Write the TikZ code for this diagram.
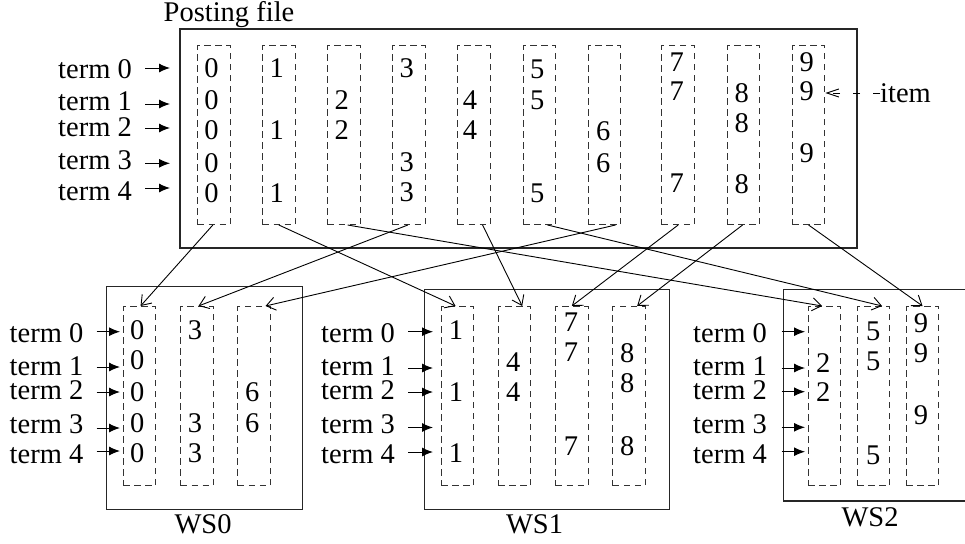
\documentclass[tikz,border=0pt]{standalone}
\usepackage{fontspec}
\setmainfont{Liberation Serif}
\usetikzlibrary{arrows.meta}
\begin{document}
\begin{tikzpicture}[x=1pt,y=-1pt,
  txt/.style={font=\fontsize{28.5}{30}\selectfont, inner sep=0pt},
  colbox/.style={draw=black!80, line width=1pt, dash pattern=on 6.5pt off 4.5pt,
    minimum width=32.7pt, minimum height=179pt, inner sep=0pt, anchor=north west},
  frame/.style={draw=black!85, line width=1.2pt},
  tarrow/.style={line width=1pt, -{Latex[length=11pt,width=9pt]}},
  link/.style={line width=0.9pt, -{Straight Barb[length=9pt,width=13pt]}},
  itemarrow/.style={line width=0.9pt, dash pattern=on 7pt off 13pt, -{Straight Barb[length=12pt,width=8pt]}}
]
\useasboundingbox (0,0) rectangle (965,543);

% ---------- Posting file ----------
\node[txt, anchor=base] (ptitle) at (229,21.5) {Posting file};
\draw[frame, line width=1.4pt] (180,29) rectangle (857,248);

\foreach \x [count=\i from 0] in {197,262,327,392,457,522.7,587.7,661.3,726.7,791.7}
  \node[colbox] (t\i) at (\x,45) {};

\foreach \x/\y/\d [count=\k] in {
  211.5/68.3/0, 211.5/100/0, 211.5/130/0, 211.5/162.7/0, 211.5/192.7/0,
  276.7/68.3/1, 276.7/130/1, 276.7/192.7/1,
  341.7/100/2, 341.7/130/2,
  406.7/68.3/3, 406.7/162.7/3, 406.7/192.7/3,
  470/100/4, 470/130/4,
  537.3/69/5, 537.3/100/5, 537.3/193/5,
  603.3/131.5/6, 603.3/163/6,
  676.7/62/7, 676.7/91/7, 676.7/183/7,
  741.7/92.7/8, 741.7/123.3/8, 741.7/184.3/8,
  806.7/62/9, 806.7/91/9, 806.7/153/9}
  \node[txt] (td\k) at (\x,\y) {\d};

\foreach \i/\ly/\ay in {0/69/68, 1/101.7/104, 2/127/128, 3/160/163.3, 4/191/188} {
  \node[txt, anchor=east] (tt\i) at (132,\ly) {term \i};
  \draw[tarrow] ([xshift=13pt, yshift={\ly pt-\ay pt}]tt\i.east) -- ++(25,0);
}

\node[txt, anchor=west] (item) at (880,93) {item};
\draw[itemarrow] (item.west) -- (t9.east |- item.west);

% ---------- WS0 ----------
\draw[frame] (106.7,286.7) rectangle (302.3,509.3);
\node[txt, anchor=base] (ws0) at (203,533) {WS0};
\foreach \x/\n in {122.7/a,180/b,237.3/c}
  \node[colbox] (w0\n) at (\x,306) {};
\foreach \x/\y/\d [count=\k] in {
  137.3/330/0, 137.3/360/0, 137.3/391.7/0, 137.3/423.3/0, 137.3/452.7/0,
  195/330/3, 195/423.3/3, 195/452.7/3,
  252.3/391.7/6, 252.3/423.3/6}
  \node[txt] (w0d\k) at (\x,\y) {\d};
\foreach \i/\ly/\ay in {0/333.3/331.7, 1/366/367, 2/390/392, 3/424/428, 4/454.7/451} {
  \node[txt, anchor=east] (wt0\i) at (83.5,\ly) {term \i};
  \draw[tarrow] ([xshift=13.2pt, yshift={\ly pt-\ay pt}]wt0\i.east) -- ++(23.3,0);
}

% ---------- WS1 ----------
\draw[frame] (424.3,289.3) rectangle (669.3,509.3);
\node[txt, anchor=base] (ws1) at (534.5,533) {WS1};
\foreach \x/\n in {440.7/a,497.7/b,555/c,612.3/d}
  \node[colbox] (w1\n) at (\x,306) {};
\foreach \x/\y/\d [count=\k] in {
  456/330/1, 456/391.7/1, 456/453.3/1,
  513.3/361.7/4, 513.3/391.7/4,
  571/321.7/7, 571/351.7/7, 571/446/7,
  627.3/352.7/8, 627.3/383.3/8, 627.3/445.7/8}
  \node[txt] (w1d\k) at (\x,\y) {\d};
\foreach \i/\ly/\ay in {0/333.3/331.7, 1/366/368, 2/390/392, 3/424/427.5, 4/454.7/452} {
  \node[txt, anchor=east] (wt1\i) at (395,\ly) {term \i};
  \draw[tarrow] ([xshift=13pt, yshift={\ly pt-\ay pt}]wt1\i.east) -- ++(25,0);
}

% ---------- WS2 ----------
\draw[frame] (968,289.3) -- (783.3,289.3) -- (783.3,501) -- (968,501);
\node[txt, anchor=base] (ws2) at (870,526) {WS2};
\foreach \x/\n in {807.7/a,856.7/b,905.7/c}
  \node[colbox] (w2\n) at (\x,306) {};
\foreach \x/\y/\d [count=\k] in {
  823.3/363.3/2, 823.3/392.3/2,
  873.3/331.7/5, 873.3/361.7/5, 873.3/455/5,
  921/323.3/9, 921/353.3/9, 921/415/9}
  \node[txt] (w2d\k) at (\x,\y) {\d};
\foreach \i/\ly/\ay in {0/333.3/331.7, 1/366/368, 2/390/391.7, 3/424/427.3, 4/454.7/451.7} {
  \node[txt, anchor=east] (wt2\i) at (767,\ly) {term \i};
  \draw[tarrow] ([xshift=14.7pt, yshift={\ly pt-\ay pt}]wt2\i.east) -- ++(23.3,0);
}

% ---------- distribution links ----------
\draw[link] ([xshift=-1pt]t0.south) -- ([xshift=1pt]w0a.north);
\draw[link] (t1.south) -- ([xshift=-2pt]w1a.north);
\draw[link] ([xshift=3.75pt]t2.south) -- ([xshift=-2.5pt]w2a.north);
\draw[link] ([xshift=-1pt]t3.south) -- ([xshift=1.65pt]w0b.north);
\draw[link] ([xshift=8.75pt]t4.south) -- ([xshift=7.65pt]w1b.north);
\draw[link] ([xshift=8pt]t5.south) -- ([xshift=8.5pt]w2b.north);
\draw[link] ([xshift=11pt]t6.south) -- ([xshift=11.35pt]w0c.north);
\draw[link] (t7.south) -- (w1c.north);
\draw[link] ([xshift=-1pt]t8.south) -- ([xshift=8pt]w1d.north);
\draw[link] (t9.south) -- (w2c.north);
\end{tikzpicture}
\end{document}
